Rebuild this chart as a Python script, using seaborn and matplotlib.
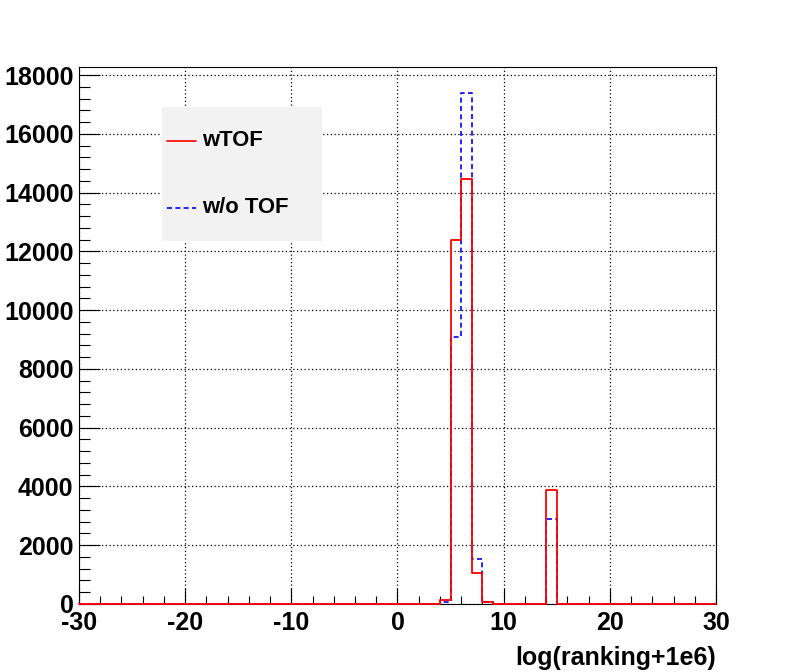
import numpy as np
import pandas as pd
import seaborn as sns
import matplotlib.pyplot as plt
from matplotlib.patches import Rectangle
from matplotlib.lines import Line2D
from matplotlib.ticker import MultipleLocator

# histogram bins (lower edges of non-empty bins, width 1) and counts
bin_low = [4, 5, 6, 7, 8, 14]
wtof = [130, 12380, 14480, 1070, 80, 3865]
wotof = [60, 9080, 17410, 1540, 70, 2880]
labels = ["wTOF", "w/o TOF"]
xlabel = "log(ranking+1e6)"

df = pd.DataFrame({
    "x": np.array(bin_low) + 0.5,
    "wtof": wtof,
    "wotof": wotof,
})

sns.set_style("white")
plt.rcParams["font.family"] = ["Liberation Sans", "DejaVu Sans"]
plt.rcParams["font.weight"] = "bold"
plt.rcParams["axes.unicode_minus"] = False
plt.rcParams["text.color"] = "black"
plt.rcParams["axes.labelcolor"] = "black"

fig = plt.figure(figsize=(7.96, 6.72), dpi=100)
ax = fig.add_axes([0.0992, 0.1012, 0.8003, 0.7991])

# w/o TOF first (blue dashed), then wTOF on top (red)
sns.histplot(data=df, x="x", weights="wotof", binwidth=1, binrange=(-30, 30),
             element="step", fill=False, color="blue", linestyle=(0, (3, 2)),
             linewidth=1.2, zorder=3, clip_on=False, ax=ax)
sns.histplot(data=df, x="x", weights="wtof", binwidth=1, binrange=(-30, 30),
             element="step", fill=False, color="red", linewidth=1.3,
             zorder=4, clip_on=False, ax=ax)

ax.set_xlim(-30, 30)
ax.set_ylim(0, 1.05 * max(max(wtof), max(wotof)))

ax.xaxis.set_major_locator(MultipleLocator(10))
ax.xaxis.set_minor_locator(MultipleLocator(2))
ax.yaxis.set_major_locator(MultipleLocator(2000))
ax.yaxis.set_minor_locator(MultipleLocator(400))

ax.tick_params(axis="both", which="both", direction="in", width=0.8,
               colors="black", labelsize=18, bottom=True, left=True,
               top=False, right=False)
ax.tick_params(axis="x", which="major", length=11.5, pad=5)
ax.tick_params(axis="x", which="minor", length=5.8)
ax.tick_params(axis="y", which="major", length=15, pad=4)
ax.tick_params(axis="y", which="minor", length=8)
for lab in ax.get_xticklabels() + ax.get_yticklabels():
    lab.set_fontweight("bold")

ax.grid(True, which="major", color="black", linestyle=(0, (1, 2)), linewidth=0.9)
ax.set_axisbelow(True)

for sp in ax.spines.values():
    sp.set_visible(True)
    sp.set_color("black")
    sp.set_linewidth(0.8)

ax.set_ylabel("")
ax.set_xlabel(xlabel, loc="right", fontsize=18, fontweight="bold", labelpad=8)

# legend box like ROOT TLegend
ax.add_patch(Rectangle((0.130, 0.676), 0.251, 0.249, transform=ax.transAxes,
                       facecolor="#f2f2f2", edgecolor="none", zorder=5))
ax.add_line(Line2D([0.138, 0.184], [0.863, 0.863], transform=ax.transAxes,
                   color="red", linewidth=1.2, zorder=6))
ax.add_line(Line2D([0.138, 0.184], [0.738, 0.738], transform=ax.transAxes,
                   color="blue", linewidth=1.2, linestyle=(0, (3, 2)), zorder=6))
ax.text(0.193, 0.863, labels[0], transform=ax.transAxes, fontsize=15.8,
        fontweight="bold", va="center", ha="left", zorder=6)
ax.text(0.193, 0.738, labels[1], transform=ax.transAxes, fontsize=15.8,
        fontweight="bold", va="center", ha="left", zorder=6)

fig.savefig("out.png", dpi=100, facecolor="white")
